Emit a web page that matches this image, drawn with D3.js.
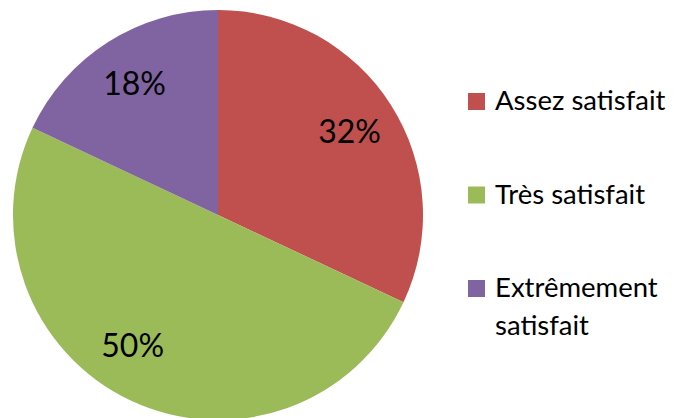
<!DOCTYPE html>
<html><head><meta charset="utf-8">
<script src="https://cdn.jsdelivr.net/npm/d3@7"></script>
<style>body{margin:0;background:#fff}svg{display:block}</style>
</head><body>
<svg id="c" width="676" height="418"></svg>
<script>
const categories = ["Assez satisfait", "Très satisfait", "Extrêmement satisfait"];
const values = [32, 50, 18];
const labels = ["32%", "50%", "18%"];
const legendLines = [["Assez satisfait"], ["Très satisfait"], ["Extrêmement", "satisfait"]];
const colors = ["#C0504D", "#9BBB59", "#8064A2"];

const svg = d3.select("#c");
const cx = 218, cy = 215, r = 205;
const labelAngleShift = [0, 8 * Math.PI / 180, 0];
const color = d3.scaleOrdinal().domain(categories).range(colors);
const pie = d3.pie().sort(null).value(d => d.v);
const data = pie(categories.map((c, i) => ({c, v: values[i], l: labels[i]})));
const arc = d3.arc().innerRadius(0).outerRadius(r);
const labelArc = d3.arc().innerRadius(r * 0.76).outerRadius(r * 0.76);
const g = svg.append("g").attr("transform", `translate(${cx},${cy})`);
g.selectAll("path").data(data).join("path")
  .attr("d", arc).attr("fill", d => color(d.data.c));
g.selectAll("text").data(data).join("text")
  .attr("transform", (d, i) => {
    const s = labelAngleShift[i];
    return `translate(${labelArc.centroid({startAngle: d.startAngle + s, endAngle: d.endAngle + s})})`;
  })
  .attr("text-anchor", "middle").attr("dy", "0.36em")
  .attr("font-family", "Lato, 'Noto Sans', sans-serif").attr("font-size", 32)
  .attr("fill", "#000").text(d => d.data.l);

const ly = d3.scalePoint().domain(categories).range([110, 297]);
const lg = svg.append("g");
categories.forEach((c, i) => {
  const y = ly(c);
  lg.append("rect").attr("x", 468).attr("y", y - 17).attr("width", 17).attr("height", 17).attr("fill", color(c));
  const t = lg.append("text").attr("x", 495).attr("y", y)
    .attr("font-family", "Lato, 'Noto Sans', sans-serif").attr("font-size", 27.5).attr("fill", "#000");
  legendLines[i].forEach((s, j) => t.append("tspan").attr("x", 495).attr("y", y + j * 38).text(s));
});
</script>
</body></html>
